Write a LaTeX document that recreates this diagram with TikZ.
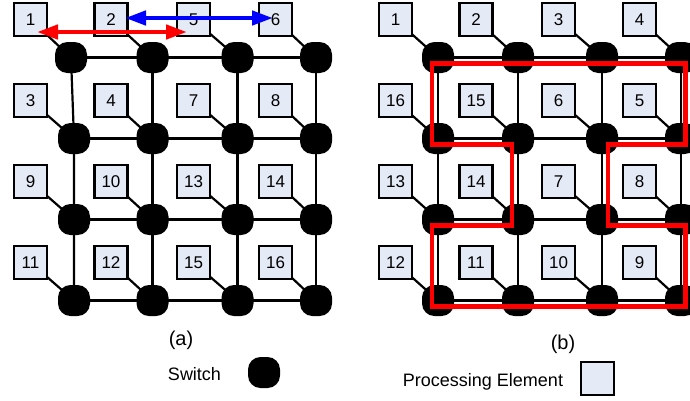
\documentclass[tikz,border=0pt]{standalone}
\usepackage{fontspec}
\setmainfont{Liberation Sans}
\usetikzlibrary{arrows.meta,backgrounds}
\definecolor{pefill}{RGB}{228,234,246}
\tikzset{
  pe/.style={draw=black, line width=2.6pt, fill=pefill, minimum size=33pt, inner sep=0pt, font=\fontsize{17}{17}\selectfont},
  sw/.style={fill=black, rounded corners=12.5pt, minimum width=32pt, minimum height=31pt, inner sep=0pt},
  link/.style={line width=2.2pt, black},
  ring/.style={red, line width=4.8pt, line join=miter},
  dbl/.style={line width=4.5pt, {Triangle[length=21pt,width=14pt]}-{Triangle[length=21pt,width=14pt]}},
  lbl/.style={font=\fontsize{20}{20}\selectfont, anchor=base, inner sep=0pt},
  leg/.style={font=\fontsize{18}{18}\selectfont, anchor=base, inner sep=0pt},
}
\begin{document}
\begin{tikzpicture}[x=1pt,y=-1pt]
\useasboundingbox (0,0) rectangle (690,400);
% ---------- panel (a) ----------
\foreach \r/\y/\sy/\labs in {1/19.5/57.5/{1,2,5,6},2/100.5/138.5/{3,4,7,8},3/181.5/219.5/{9,10,13,14},4/262.5/300.5/{11,12,15,16}}{
  \foreach \lab [count=\c] in \labs {
    \pgfmathsetmacro\bx{{30.5,111,193.5,275.5}[\c-1]}
    \pgfmathsetmacro\sx{(\r==1 && \c==1) ? 71 : {74,152.5,237.5,316}[\c-1]}
    \node[pe] (aP\r\c) at (\bx,\y) {\lab};
    \node[sw] (aS\r\c) at (\sx,\sy) {};
  }
}
% ---------- panel (b) ----------
\foreach \r/\y/\sy/\labs in {1/19.5/57.5/{1,2,3,4},2/100.5/138.5/{16,15,6,5},3/181.5/219.5/{13,14,7,8},4/262.5/300.5/{12,11,10,9}}{
  \foreach \lab [count=\c] in \labs {
    \pgfmathsetmacro\bx{{395.5,476,558.5,639.5}[\c-1]}
    \pgfmathsetmacro\sx{{438,518,602,681}[\c-1]}
    \node[pe] (bP\r\c) at (\bx,\y) {\lab};
    \node[sw] (bS\r\c) at (\sx,\sy) {};
  }
}
% ---------- links ----------
\begin{scope}[on background layer]
  \foreach \p in {a,b}{
    \foreach \r in {1,2,3,4}{
      \draw[link] (\p S\r1.center) -- (\p S\r2.center) -- (\p S\r3.center) -- (\p S\r4.center);
      \draw[link] (\p S1\r.center) -- (\p S2\r.center) -- (\p S3\r.center) -- (\p S4\r.center);
      \foreach \c in {1,2,3,4}{
        \draw[link] (\p P\r\c.center) -- (\p S\r\c.center);
      }
    }
  }
\end{scope}
% ---------- ring in (b) ----------
\draw[ring] ([shift={(-6,6)}]bS11.center) -- ([shift={(-6,6)}]bS21.center)
  -- ([shift={(-6,6)}]bS22.center) -- ([shift={(-6,6)}]bS32.center)
  -- ([shift={(-6,6)}]bS31.center) -- ([shift={(-6,6)}]bS41.center)
  -- ([shift={(4.5,6)}]bS44.center) -- ([shift={(4.5,6)}]bS34.center)
  -- ([shift={(6,6)}]bS33.center) -- ([shift={(6,6)}]bS23.center)
  -- ([shift={(4.5,6)}]bS24.center) -- ([shift={(4.5,6)}]bS14.center) -- cycle;
% ---------- arrows in (a) ----------
\draw[dbl, red] ([shift={(6.5,12.5)}]aP11.center) -- ([shift={(-6.5,12.5)}]aP13.center);
\draw[dbl, blue] ([shift={(14,-1.5)}]aP12.center) -- ([shift={(-2.5,-1.5)}]aP14.center);
% ---------- labels and legend ----------
\node[lbl] (la) at (181,345) {(a)};
\node[lbl] (lb) at (563,349) {(b)};
\node[leg] (lsw) at (194.5,380.5) {Switch};
\node[sw] (legsw) at (264,372.5) {};
\node[leg] (lpe) at (483,386) {Processing Element};
\node[pe] (legpe) at (597.5,378.5) {};
\end{tikzpicture}
\end{document}
